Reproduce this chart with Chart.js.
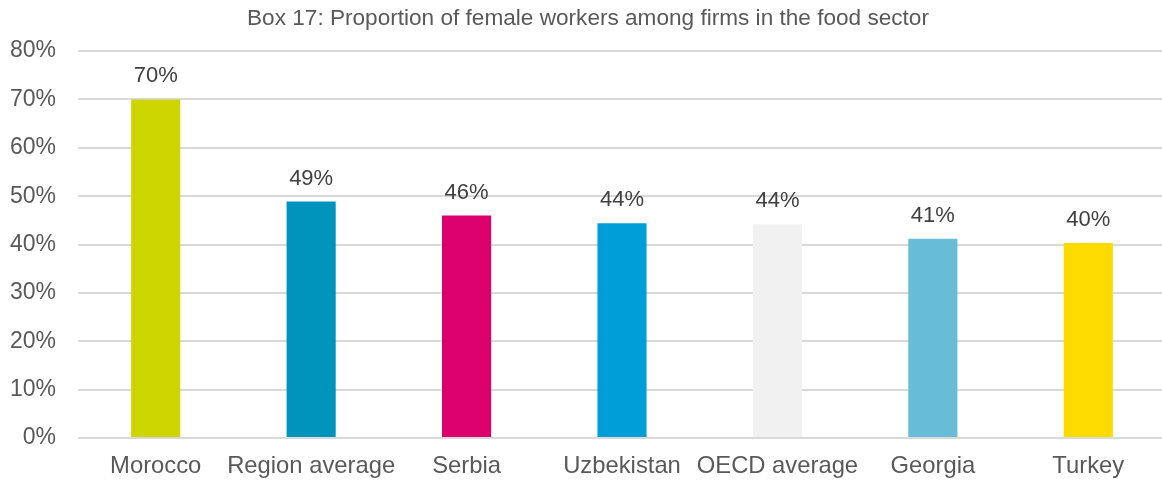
<!DOCTYPE html>
<html>
<head>
<meta charset="utf-8">
<script src="https://cdn.jsdelivr.net/npm/chart.js@4.4.1/dist/chart.umd.min.js"></script>
<style>
  body { margin: 0; background: #fff; overflow: hidden; }
  #wrap { width: 1162px; height: 482px; overflow: hidden; }
</style>
</head>
<body>
<div id="wrap"><canvas id="myChart" width="1166" height="482"></canvas></div>
<script>
const categories = ['Morocco', 'Region average', 'Serbia', 'Uzbekistan', 'OECD average', 'Georgia', 'Turkey'];
const shares = [70, 48.9, 46, 44.4, 44.2, 41.2, 40.3];
const barColors = ['#CDD500', '#0093BC', '#DC006C', '#009ED9', '#F1F1F1', '#67BCD6', '#FDDB00'];
const yTicks = [0, 10, 20, 30, 40, 50, 60, 70, 80];

const FONT = '"Liberation Sans", Arial, sans-serif';

// draws the rounded % value above each bar
const valueLabels = {
    id: 'valueLabels',
    afterDatasetsDraw(chart) {
        const ctx = chart.ctx;
        ctx.save();
        ctx.font = '22px ' + FONT;
        ctx.fillStyle = '#404040';
        ctx.textAlign = 'center';
        ctx.textBaseline = 'alphabetic';
        chart.getDatasetMeta(0).data.forEach((bar, i) => {
            ctx.fillText(Math.round(shares[i]) + '%', bar.x, bar.y - 17);
        });
        ctx.restore();
    }
};

const myChart = new Chart('myChart', {
    type: 'bar',
    data: {
        labels: categories,
        datasets: [{
            data: shares,
            backgroundColor: barColors,
            categoryPercentage: 1,
            barPercentage: 0.316
        }]
    },
    options: {
        responsive: false,
        animation: false,
        layout: { padding: { left: 10, right: 0, top: 0, bottom: 0 } },
        scales: {
            x: {
                grid: { display: false, drawTicks: false },
                border: { display: false },
                afterFit: scale => { scale.height = 44; },
                ticks: {
                    color: '#595959',
                    font: { size: 23.8, family: FONT },
                    padding: 14,
                    maxRotation: 0,
                    autoSkip: false
                }
            },
            y: {
                min: 0,
                max: 80,
                afterBuildTicks: axis => { axis.ticks = yTicks.map(v => ({ value: v })); },
                afterFit: scale => { scale.width = 68; },
                grid: { color: '#D9D9D9', lineWidth: 2, drawTicks: false },
                border: { display: false },
                ticks: {
                    color: '#595959',
                    font: { size: 23, family: FONT },
                    padding: 22,
                    callback: v => v + '%'
                }
            }
        },
        plugins: {
            legend: { display: false },
            tooltip: { enabled: false },
            title: {
                display: true,
                text: 'Box 17: Proportion of female workers among firms in the food sector',
                color: '#595959',
                font: { size: 22.6, weight: 'normal', family: FONT },
                padding: { top: 5, bottom: 19 }
            }
        }
    },
    plugins: [valueLabels]
});
</script>
</body>
</html>
